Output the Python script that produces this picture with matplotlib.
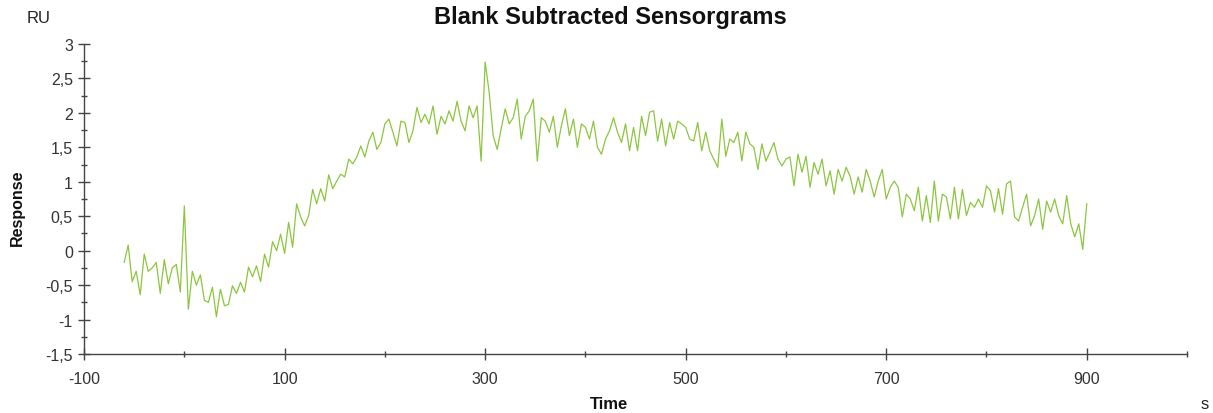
import numpy as np
import matplotlib
matplotlib.use("Agg")
import matplotlib.pyplot as plt
from matplotlib.ticker import FuncFormatter, MultipleLocator, FixedLocator
from matplotlib import font_manager

plt.rcParams['font.family'] = ['Liberation Sans', 'DejaVu Sans']
plt.rcParams['axes.unicode_minus'] = False

names = {f.name for f in font_manager.fontManager.ttflist}
tick_family = ['Liberation Sans Narrow', 'Liberation Sans'] if 'Liberation Sans Narrow' in names else ['Liberation Sans']

# time grid (s) and blank-subtracted response (RU)
time_start, time_stop, time_step = -60, 900, 4
response = [
    -0.17, 0.08, -0.45, -0.3, -0.64, -0.05, -0.3, -0.25, -0.17, -0.62,
    -0.13, -0.48, -0.25, -0.2, -0.6, 0.65, -0.85, -0.3, -0.5, -0.35,
    -0.72, -0.75, -0.53, -0.96, -0.56, -0.8, -0.78, -0.51, -0.62, -0.46,
    -0.6, -0.24, -0.38, -0.22, -0.45, -0.05, -0.24, 0.13, 0.0, 0.24,
    -0.04, 0.41, 0.05, 0.68, 0.49, 0.36, 0.51, 0.89, 0.68, 0.9,
    0.72, 1.1, 0.9, 1.01, 1.11, 1.07, 1.33, 1.26, 1.36, 1.52,
    1.36, 1.59, 1.72, 1.47, 1.57, 1.84, 1.91, 1.72, 1.52, 1.88,
    1.86, 1.57, 1.74, 2.08, 1.86, 1.98, 1.84, 2.1, 1.69, 1.95,
    1.84, 2.03, 1.88, 2.17, 1.88, 1.74, 2.1, 1.93, 2.1, 1.3,
    2.74, 2.3, 1.67, 1.47, 1.77, 2.06, 1.84, 1.93, 2.2, 1.62,
    1.95, 2.03, 2.2, 1.3, 1.93, 1.88, 1.72, 1.95, 1.5, 1.81,
    2.06, 1.67, 1.91, 1.5, 1.84, 1.79, 1.62, 1.88, 1.5, 1.4,
    1.62, 1.74, 1.93, 1.72, 1.57, 1.84, 1.45, 1.79, 1.45, 1.95,
    1.67, 2.01, 2.03, 1.59, 1.91, 1.52, 1.86, 1.62, 1.88, 1.84,
    1.79, 1.62, 1.59, 1.86, 1.45, 1.72, 1.45, 1.33, 1.21, 1.91,
    1.37, 1.62, 1.57, 1.72, 1.3, 1.72, 1.55, 1.5, 1.18, 1.55,
    1.3, 1.43, 1.57, 1.33, 1.23, 1.33, 1.36, 0.94, 1.4, 1.14,
    1.37, 0.92, 1.28, 1.11, 1.33, 0.94, 1.16, 0.82, 1.18, 1.01,
    1.21, 1.08, 0.82, 1.07, 0.85, 1.18, 1.01, 0.78, 1.01, 1.18,
    0.75, 0.92, 1.01, 0.92, 0.49, 0.82, 0.75, 0.58, 0.92, 0.43,
    0.8, 0.41, 1.01, 0.43, 0.82, 0.78, 0.46, 0.92, 0.46, 0.89,
    0.51, 0.7, 0.63, 0.75, 0.63, 0.94, 0.87, 0.56, 0.9, 0.53,
    0.97, 1.01, 0.49, 0.43, 0.63, 0.82, 0.36, 0.51, 0.75, 0.31,
    0.72, 0.56, 0.75, 0.51, 0.39, 0.8, 0.39, 0.2, 0.39, 0.02,
    0.68,
]
time = np.arange(time_start, time_stop + 1, time_step)
n = min(len(time), len(response))
time = time[:n]
response = np.array(response[:n])

x_major = [-100, 100, 300, 500, 700, 900]
x_minor = [0, 200, 400, 600, 800, 1000]
y_major = [-1.5, -1, -0.5, 0, 0.5, 1, 1.5, 2, 2.5, 3]

fig = plt.figure(figsize=(12.13, 4.14), dpi=100)
ax = fig.add_axes([0.0693, 0.1425, 0.9093, 0.7488])

ax.plot(time, response, color='#8cc63e', linewidth=0.9)

ax.set_xlim(-100, 1000)
ax.set_ylim(-1.5, 3)

for side in ('top', 'right'):
    ax.spines[side].set_visible(False)
for side in ('left', 'bottom'):
    ax.spines[side].set_color('#444444')
    ax.spines[side].set_linewidth(1.0)

ax.xaxis.set_major_locator(FixedLocator(x_major))
ax.xaxis.set_minor_locator(FixedLocator(x_minor))
ax.yaxis.set_major_locator(FixedLocator(y_major))
ax.yaxis.set_minor_locator(MultipleLocator(0.25))

def comma(v, pos):
    return ('%g' % v).replace('.', ',')
ax.yaxis.set_major_formatter(FuncFormatter(comma))

ax.tick_params(axis='both', which='major', direction='inout', length=8,
               width=1, color='#444444', labelsize=11.5, labelcolor='#333333')
ax.tick_params(axis='both', which='minor', direction='inout', length=4,
               width=1, color='#444444')
ax.tick_params(axis='x', which='major', pad=8)
ax.tick_params(axis='y', which='major', pad=4)
for lab in ax.get_xticklabels() + ax.get_yticklabels():
    lab.set_family(tick_family)

fig.text(0.503, 0.958, 'Blank Subtracted Sensorgrams', ha='center', va='center',
         fontsize=17, fontweight='bold', color='#111111')
fig.text(0.022, 0.956, 'RU', ha='left', va='center', fontsize=12, color='#222222')
fig.text(0.014, 0.497, 'Response', ha='center', va='center', rotation=90,
         fontsize=11.5, fontweight='bold', color='#111111')
fig.text(0.502, 0.024, 'Time', ha='center', va='center', fontsize=12,
         fontweight='bold', color='#111111')
fig.text(0.9935, 0.024, 's', ha='center', va='center', fontsize=12, color='#222222')

fig.savefig('out.png', dpi=100)
